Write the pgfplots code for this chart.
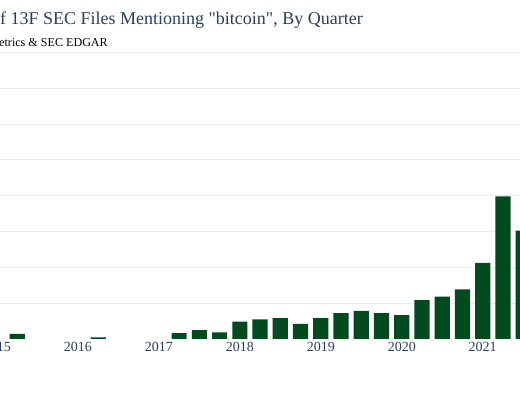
\documentclass[border=0pt]{standalone}
\usepackage{pgfplots}
\pgfplotsset{compat=1.18}
\usepackage{fontspec}
\setmainfont{Liberation Serif}
\newfontfamily\plainserif{Liberation Serif}
\definecolor{bargreen}{HTML}{034A1F}
\definecolor{plotlyblue}{HTML}{2A3F5F}
\definecolor{gridgrey}{HTML}{EBEBEB}
\begin{document}
\begin{tikzpicture}
\begin{scope}
\clip (43.5pt,-61.2pt) rectangle (563.5pt,338.8pt);
\begin{axis}[
    anchor=south west,
    scale only axis, width=563.5pt, height=286.5pt,
    xmin=2014.5, xmax=2021.4605,
    ymin=0, ymax=400,
    ybar, bar width=15.2pt,
    axis line style={draw=none},
    major tick length=0pt,
    ytick={50,100,...,400}, yticklabels={},
    ymajorgrids, grid style={gridgrey, line width=0.8pt},
    xtick={2015,2016,2017,2018,2019,2020,2021},
    xticklabels={2015,2016,2017,2018,2019,2020,2021},
    xticklabel style={font=\fontsize{14}{14}\selectfont, text=plotlyblue},
]
    % quarterly counts, x = year + (quarter-1)/4
    \addplot[draw=none, fill=bargreen] coordinates {
        (2015.25,7) (2016.25,2)
        (2017.25,8) (2017.50,12) (2017.75,9)
        (2018.00,24) (2018.25,27) (2018.50,29) (2018.75,21)
        (2019.00,29) (2019.25,36) (2019.50,39) (2019.75,36)
        (2020.00,33) (2020.25,54) (2020.50,59) (2020.75,69)
        (2021.00,106) (2021.25,199) (2021.50,151)
    };
\end{axis}
\node[anchor=base east, inner sep=0, text=plotlyblue, font=\plainserif\fontsize{18}{18}\selectfont]
    at (406.5pt,314.5pt) {Number of 13F SEC Files Mentioning "bitcoin", By Quarter};
\node[anchor=base east, inner sep=0, font=\fontsize{12.1}{13}\selectfont]
    at (151.5pt,292.5pt) {Source: Coin Metrics \& SEC EDGAR};
\end{scope}
\pgfresetboundingbox
\useasboundingbox (43.5pt,-61.2pt) rectangle (563.5pt,338.8pt);
\end{tikzpicture}
\end{document}
